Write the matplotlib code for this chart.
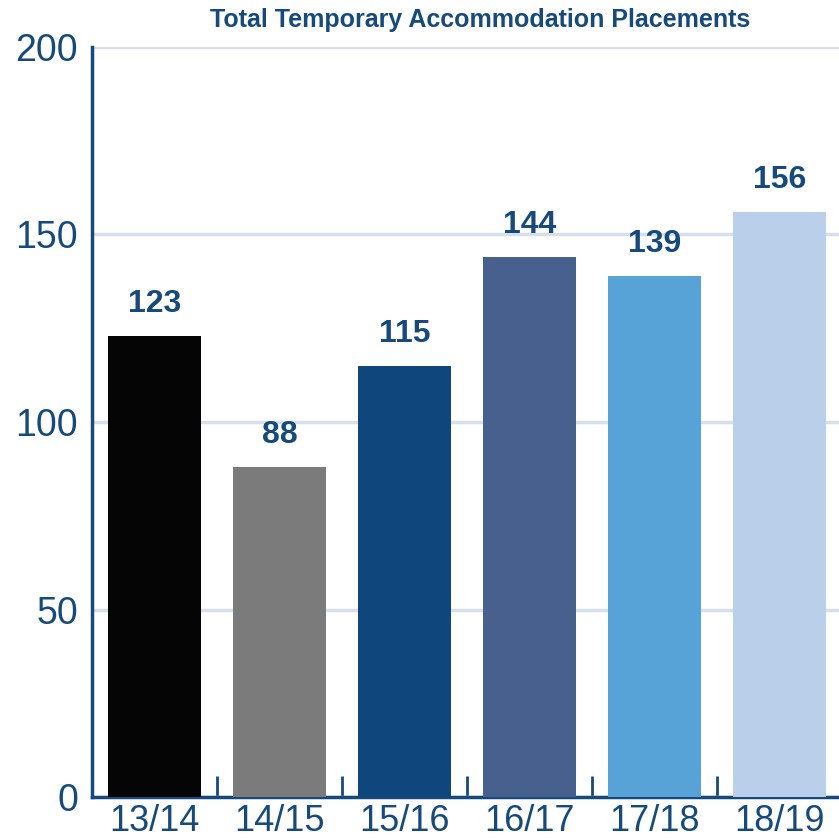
import matplotlib
matplotlib.use("Agg")
import matplotlib.pyplot as plt
from matplotlib import font_manager

# data
years = ["13/14", "14/15", "15/16", "16/17", "17/18", "18/19"]
placements = [123, 88, 115, 144, 139, 156]
bar_colors = ["#050505", "#7b7b7b", "#0f477c", "#48608e", "#57a2d6", "#bad0ea"]
y_ticks = [0, 50, 100, 150, 200]

navy = "#174a7c"

# narrow face for the axis labels if it is there
names = {f.name for f in font_manager.fontManager.ttflist}
narrow = "Liberation Sans Narrow" if "Liberation Sans Narrow" in names else "Liberation Sans"
plt.rcParams["font.family"] = ["Liberation Sans", "DejaVu Sans"]

fig = plt.figure(figsize=(8.39, 8.38), dpi=100)
# axes runs a little past the right edge, as in the reference
ax = fig.add_axes([92 / 839, 41 / 838, 750 / 839, 750 / 838])

x = list(range(len(years)))
bars = ax.bar(x, placements, width=0.74, color=bar_colors, zorder=3)
for b, v in zip(bars, placements):
    ax.text(b.get_x() + b.get_width() / 2, v + 4.5, str(v), ha="center", va="bottom",
            fontsize=23, fontweight="bold", color=navy, zorder=4)

ax.set_xlim(-0.5, len(years) - 0.5)
ax.set_ylim(0, 200)
ax.set_yticks(y_ticks)
ax.set_yticklabels([str(t) for t in y_ticks], fontsize=27, color=navy, fontfamily=narrow)
ax.tick_params(axis="y", length=0, pad=10)

# category boundary ticks pointing up into the plot
ax.set_xticks([i + 0.5 for i in x[:-1]], minor=True)
ax.tick_params(axis="x", which="minor", direction="in", length=15, width=2, color=navy)
ax.set_xticks(x)
ax.set_xticklabels(years, fontsize=26, color=navy, fontfamily=narrow)
ax.tick_params(axis="x", which="major", length=0, pad=5)

ax.yaxis.grid(True, color="#d6e0ea", linewidth=2.5, zorder=0)
ax.set_axisbelow(True)

for s in ["top", "right"]:
    ax.spines[s].set_visible(False)
for s in ["left", "bottom"]:
    ax.spines[s].set_color(navy)
    ax.spines[s].set_linewidth(2.5)

fig.text(480 / 839, 1 - 20 / 838, "Total Temporary Accommodation Placements", ha="center", va="center",
         fontsize=18, fontweight="bold", color=navy, fontfamily=narrow)

fig.savefig("out.png", dpi=100)
